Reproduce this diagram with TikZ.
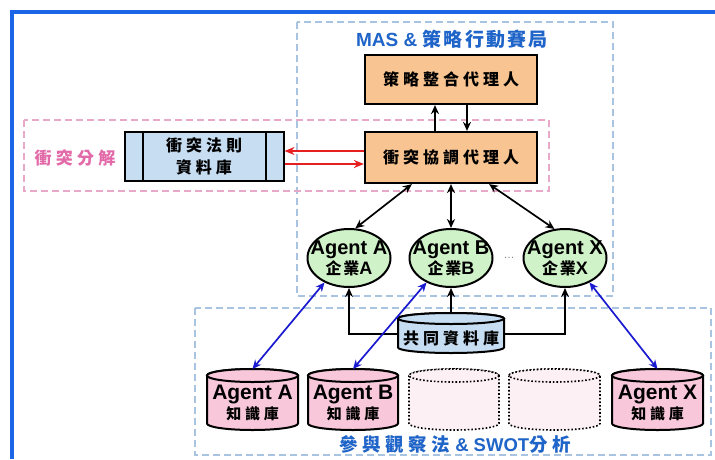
\documentclass[tikz,border=0pt]{standalone}
\usepackage{fontspec}
\setmainfont{Liberation Sans}
\newfontfamily\cjk[LetterSpace=25]{Noto Sans CJK TC}
\newfontfamily\cjkt[LetterSpace=12]{Noto Sans CJK TC}
\usetikzlibrary{arrows.meta,shapes.geometric}
\definecolor{framec}{HTML}{1A66E6}
\definecolor{bdash}{HTML}{A9C4E0}
\definecolor{pdash}{HTML}{E8A8C8}
\definecolor{orangec}{HTML}{F8C491}
\definecolor{dbblue}{HTML}{C6DDF2}
\definecolor{greenc}{HTML}{D0F2C8}
\definecolor{pinkc}{HTML}{F8C8DA}
\definecolor{dotpink}{HTML}{FDF0F5}
\definecolor{titleblue}{HTML}{1F64C8}
\definecolor{pinktext}{HTML}{E26AA8}
\definecolor{arrblue}{HTML}{1A1AD0}
\definecolor{arrred}{HTML}{E62020}
\newcommand\cylshape[6]{%
 \path[#6] (#1-#2,#3) -- (#1-#2,#4) arc[start angle=180,end angle=0,x radius=#2,y radius=#5] -- (#1+#2,#3) arc[start angle=0,end angle=-180,x radius=#2,y radius=#5] -- cycle;
 \path[#6] (#1,#3) ellipse[x radius=#2,y radius=#5];
}
\newcommand\agenttext[1]{\makebox[54pt][c]{\fontsize{20}{20}\selectfont\bfseries Agent #1}\\[1pt]\makebox[54pt][c]{\fontsize{16}{16}\selectfont{\cjkt\bfseries 企業}\fontsize{18}{16}\selectfont\bfseries #1}}
\tikzset{
 dashbox/.style={line width=1.4pt,dash pattern=on 7pt off 4pt},
 orangebox/.style={draw=black,line width=2.2pt,fill=orangec,minimum width=172pt,inner sep=0pt,font=\fontsize{16}{19}\selectfont\cjk\bfseries},
 dbbox/.style={draw=black,line width=2pt,fill=dbblue,minimum width=159pt,minimum height=49pt,inner sep=0pt,align=center,font=\fontsize{16}{22}\selectfont\cjk\bfseries},
 agentell/.style={ellipse,draw=black,line width=2pt,fill=greenc,minimum width=83pt,minimum height=58pt,inner sep=0pt,align=center},
 kbtext/.style={align=center,inner sep=0pt},
 cylline/.style={draw=black,line width=2pt},
 barr/.style={line width=1.7pt,black,-{Stealth[length=9pt,width=8pt]}},
 bbarr/.style={line width=1.7pt,black,{Stealth[length=9pt,width=8pt]}-{Stealth[length=9pt,width=8pt]}},
 bluearr/.style={line width=1.7pt,arrblue,{Stealth[length=9pt,width=8pt]}-{Stealth[length=9pt,width=8pt]}},
 redarr/.style={line width=1.7pt,arrred,-{Stealth[length=10pt,width=8pt]}},
}
\begin{document}
\begin{tikzpicture}[x=1pt,y=-1pt]
\useasboundingbox (0,0) rectangle (715,459);
\fill[white] (0,0) rectangle (715,459);
% frame
\draw[framec,line width=3.5pt] (12,459) -- (12,12) -- (715,12);
% dashed regions
\draw[bdash,dashbox] (297,22) rectangle (613,296);
\draw[pdash,dashbox] (24,120) rectangle (549,191);
\draw[bdash,dashbox] (195,308) rectangle (711,455);
% titles
\node[text=titleblue,inner sep=0pt] (mastitle) at (452,39) {\fontsize{19}{22}\selectfont\bfseries MAS \& {\cjkt 策略行動賽局}};
\node[text=pinktext,inner sep=0pt] (cftitle) at (75,158) {\fontsize{17}{19}\selectfont\cjk\bfseries 衝突分解};
\node[text=titleblue,inner sep=0pt] (swot) at (455,444) {\fontsize{18.5}{20}\selectfont\bfseries{\cjk 參與觀察法} \& SWOT{\cjk 分析}};
% boxes
\node[orangebox,minimum height=49pt] (c1) at (451,79.5) {策略整合代理人};
\node[orangebox,minimum height=51pt] (c2) at (451,157.5) {衝突協調代理人};
\node[dbbox] (db) at (204,156.5) {衝突法則\\資料庫};
\draw[line width=2pt] ([xshift=19pt]db.north west) -- ([xshift=19pt]db.south west);
\draw[line width=2pt] ([xshift=-19pt]db.north east) -- ([xshift=-19pt]db.south east);
% agents
\node[agentell] (eA) at (349,258) {\agenttext{A}};
\node[agentell] (eB) at (451,258) {\agenttext{B}};
\node[agentell] (eX) at (565,258) {\agenttext{X}};
\node[text=gray,inner sep=0pt] (dots) at (509,258) {\fontsize{11}{11}\selectfont\dots};
% cylinders
\cylshape{451}{53}{318.5}{347.5}{5.5}{cylline,fill=dbblue}
\cylshape{252.5}{45.5}{375.5}{423.5}{6.5}{cylline,fill=pinkc}
\cylshape{353}{45}{375.5}{423.5}{6.5}{cylline,fill=pinkc}
\cylshape{454}{45}{375.5}{423.5}{6.5}{draw=black,line width=1.6pt,dotted,fill=dotpink}
\cylshape{554.5}{45.5}{375.5}{423.5}{6.5}{draw=black,line width=1.6pt,dotted,fill=dotpink}
\cylshape{657.5}{45.5}{375.5}{423.5}{6.5}{cylline,fill=pinkc}
\node[kbtext] (shared) at (451,338) {\fontsize{16}{19}\selectfont\cjk\bfseries 共同資料庫};
\node[kbtext] (kbA) at (252.5,403) {\fontsize{21}{21}\selectfont\bfseries Agent A\\[2pt]\fontsize{15}{16}\selectfont\cjk\bfseries 知識庫};
\node[kbtext] (kbB) at (353,403) {\fontsize{21}{21}\selectfont\bfseries Agent B\\[2pt]\fontsize{15}{16}\selectfont\cjk\bfseries 知識庫};
\node[kbtext] (kbX) at (657.5,403) {\fontsize{21}{21}\selectfont\bfseries Agent X\\[2pt]\fontsize{15}{16}\selectfont\cjk\bfseries 知識庫};
\coordinate (kbAtop) at (252.5,369);
\coordinate (kbBtop) at (353,369);
\coordinate (kbXtop) at (657.5,369);
\coordinate (shL) at (398,334);
\coordinate (shR) at (504,334);
\coordinate (shT) at (451,313);
% connectors
\draw[barr] ([xshift=-16pt]c2.north) -- ([xshift=-16pt]c1.south);
\draw[barr] ([xshift=16pt]c1.south) -- ([xshift=16pt]c2.north);
\draw[redarr] ([yshift=6.5pt]c2.west) -- ([yshift=5.5pt]db.east);
\draw[redarr] ([yshift=-7.5pt]db.east) -- ([yshift=-6.5pt]c2.west);
\draw[bbarr] ([xshift=48pt]c2.south west) -- (eA.78);
\draw[bbarr] (c2.south) -- (eB.north);
\draw[bbarr] ([xshift=-49pt]c2.south east) -- (eX.110);
\draw[barr] (shL) -| (eA.south);
\draw[barr] (shR) -| (eX.south);
\draw[barr] (shT) -- (eB.south);
\draw[bluearr] (eA.225) -- (kbAtop);
\draw[bluearr] (eB.225) -- (kbBtop);
\draw[bluearr] (eX.315) -- (kbXtop);
\end{tikzpicture}
\end{document}
